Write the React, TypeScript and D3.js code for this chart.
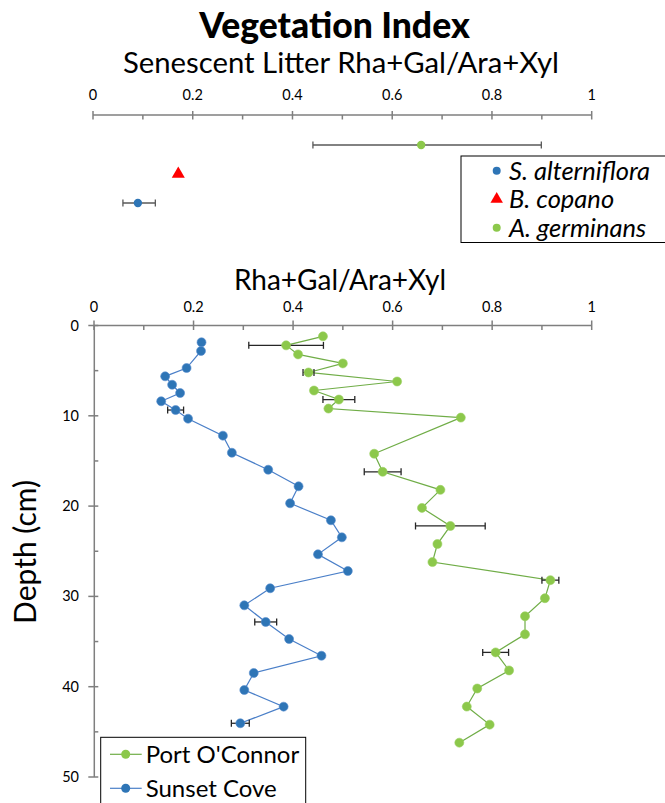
import React from "react";
import * as d3 from "d3";

// ---------- Data ----------
// Top panel: senescent litter
const litterSpecies = ["A. germinans", "B. copano", "S. alterniflora"];
const litterValue = [0.658, 0.171, 0.09];
const litterErrLow = [0.441, 0.171, 0.06];
const litterErrHigh = [0.899, 0.171, 0.125];
const legendSpecies = ["S. alterniflora", "B. copano", "A. germinans"];

// Bottom panel: depth profiles
const portDepth = [1.2, 2.2, 3.2, 4.2, 5.2, 6.2, 7.2, 8.2, 9.2, 10.2, 14.2, 16.2, 18.2, 20.2, 22.2, 24.2, 26.2, 28.2, 30.2, 32.2, 34.2, 36.2, 38.2, 40.2, 42.2, 44.2, 46.2];
const portValue = [0.46, 0.386, 0.41, 0.5, 0.431, 0.609, 0.442, 0.492, 0.471, 0.737, 0.563, 0.58, 0.696, 0.659, 0.716, 0.69, 0.68, 0.917, 0.906, 0.866, 0.866, 0.807, 0.834, 0.77, 0.749, 0.795, 0.734];
const portErr = [0, 0.075, 0, 0, 0.011, 0, 0, 0.032, 0, 0, 0, 0.037, 0, 0, 0.07, 0, 0, 0.017, 0, 0, 0, 0.026, 0, 0, 0, 0, 0];

const sunsetDepth = [1.86, 2.82, 4.71, 5.63, 6.56, 7.48, 8.39, 9.36, 10.32, 12.2, 14.09, 15.97, 17.81, 19.69, 21.57, 23.46, 25.34, 27.19, 29.1, 30.99, 32.83, 34.72, 36.57, 38.48, 40.37, 42.21, 44.05];
const sunsetValue = [0.216, 0.215, 0.186, 0.143, 0.157, 0.173, 0.135, 0.164, 0.189, 0.259, 0.277, 0.35, 0.411, 0.394, 0.476, 0.498, 0.45, 0.51, 0.354, 0.302, 0.345, 0.392, 0.457, 0.321, 0.302, 0.381, 0.294];
const sunsetErr = [0, 0, 0, 0, 0, 0, 0, 0.016, 0, 0, 0, 0, 0, 0, 0, 0, 0, 0, 0, 0, 0.022, 0, 0, 0, 0, 0, 0.018];

const xTicks = [0, 0.2, 0.4, 0.6, 0.8, 1];
const xMinorTicks = [0.1, 0.3, 0.5, 0.7, 0.9];
const depthTicks = [0, 10, 20, 30, 40, 50];
const depthMinorTicks = [5, 15, 25, 35, 45];

const seriesNames = ["Port O'Connor", "Sunset Cove"];

// ---------- Styles ----------
const FONT = "Lato, 'Open Sans', sans-serif";
const BLUE = "#2E75B6";
const BLUE_LINE = "#4A7FC8";
const GREEN = "#8CC84B";
const GREEN_LINE = "#70AD47";
const RED = "#FF0000";
const AXIS = "#7F7F7F";
const ERR = "#262626";

const speciesColor: Record<string, string> = {
  "S. alterniflora": BLUE,
  "B. copano": RED,
  "A. germinans": GREEN,
};

function Marker({ name, x, y, r }: { name: string; x: number; y: number; r: number }) {
  if (name === "B. copano") {
    const tri = d3.symbol(d3.symbolTriangle, r * r * 4.2)();
    return <path d={tri || ""} transform={`translate(${x},${y})`} fill={RED} />;
  }
  return <circle cx={x} cy={y} r={r} fill={speciesColor[name]} />;
}

function ErrBar({ x0, x1, y, color, cap }: { x0: number; x1: number; y: number; color: string; cap: number }) {
  return (
    <g stroke={color} strokeWidth={1.3}>
      <line x1={x0} x2={x1} y1={y} y2={y} />
      <line x1={x0} x2={x0} y1={y - cap} y2={y + cap} />
      <line x1={x1} x2={x1} y1={y - cap} y2={y + cap} />
    </g>
  );
}

export default function App() {
  // top panel scales
  const xTop = d3.scaleLinear().domain([0, 1]).range([93, 591.7]);
  const yTop = d3.scalePoint<string>().domain(litterSpecies).range([145, 203]);
  const topAxisY = 115;

  // bottom panel scales
  const x = d3.scaleLinear().domain([0, 1]).range([94, 591.7]);
  const y = d3.scaleLinear().domain([0, 50]).range([325.5, 777]);
  const axisX = 94.3;

  const lineGen = d3
    .line<[number, number]>()
    .x((d) => x(d[0]))
    .y((d) => y(d[1]));

  const portPts: [number, number][] = portValue.map((v, i) => [v, portDepth[i]]);
  const sunsetPts: [number, number][] = sunsetValue.map((v, i) => [v, sunsetDepth[i]]);

  return (
    <svg
      width={665}
      height={803}
      viewBox="0 0 665 803"
      style={{ position: "absolute", left: 0, top: 0, background: "#fff" }}
      fontFamily={FONT}
    >
      <rect width={665} height={803} fill="#fff" />
      {/* Titles */}
      <text x={334.5} y={38} textAnchor="middle" fontWeight="900" fontSize={35.5} fill="#000">
        Vegetation Index
      </text>
      <text x={341} y={73} textAnchor="middle" fontSize={29.3} fill="#000">
        Senescent  Litter Rha+Gal/Ara+Xyl
      </text>

      {/* Top axis */}
      <line x1={xTop(0)} x2={xTop(1)} y1={topAxisY} y2={topAxisY} stroke={AXIS} strokeWidth={1.5} />
      {xTicks.map((t) => (
        <g key={"tt" + t}>
          <line x1={xTop(t)} x2={xTop(t)} y1={topAxisY - 4} y2={topAxisY + 4.5} stroke={AXIS} strokeWidth={1.5} />
          <text x={xTop(t)} y={100} textAnchor="middle" fontSize={14.5} fill="#000">
            {String(t)}
          </text>
        </g>
      ))}
      {xMinorTicks.map((t) => (
        <line key={"tm" + t} x1={xTop(t)} x2={xTop(t)} y1={topAxisY} y2={topAxisY + 4.5} stroke={AXIS} strokeWidth={1.5} />
      ))}

      {/* Top points */}
      {litterSpecies.map((s, i) => {
        const cy = yTop(s) as number;
        return (
          <g key={s}>
            {litterErrHigh[i] > litterErrLow[i] && (
              <ErrBar
                x0={xTop(litterErrLow[i])}
                x1={xTop(litterErrHigh[i])}
                y={cy}
                color="#595959"
                cap={3.5}
              />
            )}
            <Marker name={s} x={xTop(litterValue[i])} y={cy} r={4.2} />
          </g>
        );
      })}

      {/* Top legend */}
      <rect x={461} y={156} width={210} height={86.5} fill="#fff" stroke="#000" strokeWidth={1} />
      {legendSpecies.map((s, i) => {
        const ly = 170.7 + i * 28.5;
        return (
          <g key={"lg" + s}>
            <Marker name={s} x={496.7} y={ly} r={4} />
            <text x={509} y={ly + 9} fontSize={25.5} fontStyle="italic" fill="#000">
              {s}
            </text>
          </g>
        );
      })}

      {/* Bottom title */}
      <text x={340} y={290} textAnchor="middle" fontSize={28} fill="#000">
        Rha+Gal/Ara+Xyl
      </text>

      {/* Bottom x axis */}
      <line x1={x(0)} x2={x(1)} y1={y(0)} y2={y(0)} stroke={AXIS} strokeWidth={1.5} />
      {xTicks.map((t) => (
        <g key={"bt" + t}>
          <line x1={x(t)} x2={x(t)} y1={y(0) - 5} y2={y(0) + 4.5} stroke={AXIS} strokeWidth={1.5} />
          <text x={x(t)} y={312} textAnchor="middle" fontSize={14.5} fill="#000">
            {String(t)}
          </text>
        </g>
      ))}
      {xMinorTicks.map((t) => (
        <line key={"bm" + t} x1={x(t)} x2={x(t)} y1={y(0)} y2={y(0) + 4.5} stroke={AXIS} strokeWidth={1.5} />
      ))}

      {/* Bottom y axis */}
      <line x1={axisX} x2={axisX} y1={y(0)} y2={y(50)} stroke={AXIS} strokeWidth={1.5} />
      {depthTicks.map((t) => (
        <g key={"yt" + t}>
          <line x1={axisX - 6} x2={axisX + 4} y1={y(t)} y2={y(t)} stroke={AXIS} strokeWidth={1.5} />
          <text x={79} y={y(t) + 5} textAnchor="end" fontSize={14.5} fill="#000">
            {String(t)}
          </text>
        </g>
      ))}
      {depthMinorTicks.map((t) => (
        <line key={"ym" + t} x1={axisX} x2={axisX + 4} y1={y(t)} y2={y(t)} stroke={AXIS} strokeWidth={1.5} />
      ))}

      <text
        transform={`translate(36,552) rotate(-90)`}
        textAnchor="middle"
        fontSize={30}
        fill="#000"
      >
        Depth  (cm)
      </text>

      {/* Sunset Cove line */}
      <path d={lineGen(sunsetPts) || ""} fill="none" stroke={BLUE_LINE} strokeWidth={1.2} />
      {/* Port O'Connor line */}
      <path d={lineGen(portPts) || ""} fill="none" stroke={GREEN_LINE} strokeWidth={1.2} />

      {/* Error bars */}
      {sunsetErr.map((e, i) =>
        e > 0 ? (
          <ErrBar key={"se" + i} x0={x(sunsetValue[i] - e)} x1={x(sunsetValue[i] + e)} y={y(sunsetDepth[i])} color={ERR} cap={3.5} />
        ) : null
      )}
      {portErr.map((e, i) =>
        e > 0 ? (
          <ErrBar key={"pe" + i} x0={x(portValue[i] - e)} x1={x(portValue[i] + e)} y={y(portDepth[i])} color={ERR} cap={3.5} />
        ) : null
      )}

      {/* Markers */}
      {sunsetPts.map((p, i) => (
        <circle key={"sp" + i} cx={x(p[0])} cy={y(p[1])} r={4.5} fill={BLUE} stroke="#5B8FD0" strokeWidth={0.6} />
      ))}
      {portPts.map((p, i) => (
        <circle key={"pp" + i} cx={x(p[0])} cy={y(p[1])} r={4.5} fill={GREEN} stroke="#9BD060" strokeWidth={0.6} />
      ))}

      {/* Bottom legend */}
      <rect x={100.7} y={737.3} width={205} height={80} fill="#fff" stroke="#000" strokeWidth={1} />
      {seriesNames.map((s, i) => {
        const ly = 754.3 + i * 34;
        const c = i === 0 ? GREEN : BLUE;
        const lc = i === 0 ? GREEN_LINE : BLUE_LINE;
        return (
          <g key={"bl" + s}>
            <line x1={110} x2={141.7} y1={ly} y2={ly} stroke={lc} strokeWidth={1.2} />
            <circle cx={125.7} cy={ly} r={4.5} fill={c} />
            <text x={145.7} y={ly + 8.5} fontSize={24} fill="#000">
              {s}
            </text>
          </g>
        );
      })}
    </svg>
  );
}
